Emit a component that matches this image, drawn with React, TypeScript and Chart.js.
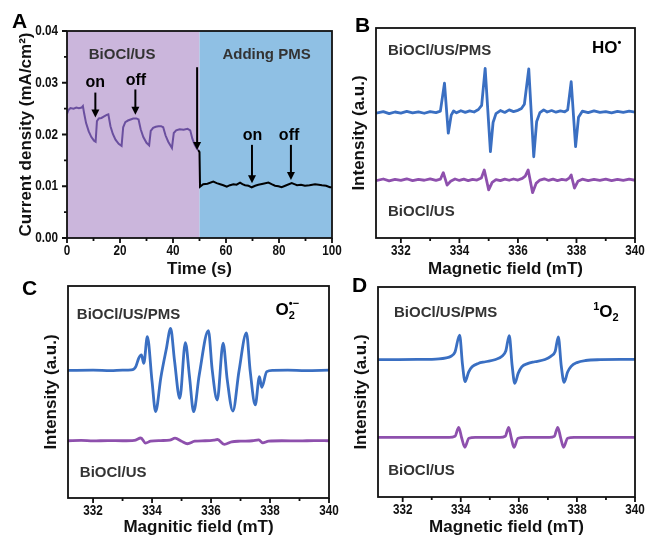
import React, { useEffect, useRef } from 'react';
import { Chart, registerables } from 'chart.js';

Chart.register(...registerables);

const FONT = '"Liberation Sans", Arial, Helvetica, sans-serif';

// ---------------- Panel A : current density vs time ----------------
const aXTicks = [0, 20, 40, 60, 80, 100];
const aXTickLabels = ['0', '20', '40', '60', '80', '100'];
const aXMinor = [10, 30, 50, 70, 90];
const aYTicks = [0, 0.01, 0.02, 0.03, 0.04];
const aYTickLabels = ['0.00', '0.01', '0.02', '0.03', '0.04'];
const aYMinor = [0.005, 0.015, 0.025, 0.035];

const aUsTime = [
  0, 0.5, 1.3, 2.5, 3.5, 4.5, 5.5, 6.0, 6.5, 7.2,
  8.2, 9.2, 10.2, 10.8, 11.3, 12.0, 13.0, 14.0, 15.0, 15.6,
  16.4, 17.3, 18.3, 19.5, 20.6, 21.2, 22.0, 23.0, 24.0, 25.0,
  26.2, 27.0, 27.8, 28.8, 30.0, 31.0, 31.6, 32.5, 33.5, 34.5,
  35.5, 36.3, 37.2, 38.2, 39.6, 40.3, 41.2, 42.5, 44.0, 45.5,
  46.5, 47.3, 48.2, 49.1, 49.5,
];
const aUsCurrent = [
  0.0240, 0.0247, 0.0251, 0.0250, 0.0252, 0.0251, 0.0252, 0.0255, 0.0240, 0.0222,
  0.0206, 0.0195, 0.0188, 0.0186, 0.0226, 0.0231, 0.0232, 0.0235, 0.0238, 0.0239,
  0.0216, 0.0201, 0.0190, 0.0182, 0.0178, 0.0214, 0.0224, 0.0227, 0.0229, 0.0231,
  0.0231, 0.0229, 0.0210, 0.0195, 0.0184, 0.0179, 0.0207, 0.0213, 0.0215, 0.0216,
  0.0216, 0.0214, 0.0198, 0.0186, 0.0174, 0.0203, 0.0208, 0.0210, 0.0209, 0.0211,
  0.0208, 0.0192, 0.0180, 0.0172, 0.0170,
];
const aPmsTime = [
  49.5, 50.0, 50.2, 51.4, 53.0, 55.2, 56.5, 57.8, 59.0, 60.3,
  61.5, 62.8, 64.0, 65.3, 66.2, 67.2, 68.5, 69.7, 71.0, 72.2,
  74.0, 76.0, 77.2, 78.5, 79.8, 81.0, 82.8, 84.8, 85.8, 86.8,
  88.3, 89.8, 91.5, 93.6, 95.0, 96.2, 97.8, 99.2, 100,
];
const aPmsCurrent = [
  0.0170, 0.0166, 0.0099, 0.0104, 0.0105, 0.0109, 0.0106, 0.0104, 0.0102, 0.0099,
  0.0102, 0.0104, 0.0103, 0.0107, 0.0104, 0.0102, 0.0101, 0.0098, 0.0101, 0.0103,
  0.0105, 0.0107, 0.0104, 0.0101, 0.0100, 0.0098, 0.0102, 0.0106, 0.0104, 0.0102,
  0.0103, 0.0101, 0.0102, 0.0104, 0.0103, 0.0102, 0.0101, 0.0098, 0.0098,
];
// shaded regions (time ranges)
const aRegionStart = [0, 50];
const aRegionEnd = [50, 100];
// arrows (time, from current, to current)
const aArrowTime = [10.7, 25.8, 49.1, 69.8, 84.5];
const aArrowFrom = [0.0281, 0.0287, 0.0330, 0.0180, 0.0180];
const aArrowTo = [0.0233, 0.0238, 0.0170, 0.0106, 0.0112];

// ---------------- EPR panels ----------------
const eprTicks = [332, 334, 336, 338, 340];
const eprTickLabels = ['332', '334', '336', '338', '340'];
const eprMinor = [333, 335, 337, 339];

// Panel B (HO•)
const bPmsField = [
  331.15, 331.4, 331.6, 331.8, 332.0, 332.2, 332.4, 332.6, 332.8, 333.0,
  333.2, 333.35, 333.49, 333.62, 333.72, 333.8, 333.9, 334.05, 334.2, 334.35,
  334.5, 334.65, 334.76, 334.88, 335.06, 335.15, 335.25, 335.4, 335.55, 335.7,
  335.85, 336.0, 336.12, 336.22, 336.37, 336.54, 336.64, 336.75, 336.88, 337.0,
  337.15, 337.3, 337.45, 337.6, 337.7, 337.82, 337.97, 338.07, 338.2, 338.4,
  338.6, 338.8, 339.0, 339.2, 339.4, 339.6, 339.8, 340.0,
];
const bPmsIntensity = [
  59.4, 60.2, 59.2, 60.0, 59.5, 60.3, 59.6, 60.1, 59.4, 60.2,
  59.7, 60.4, 73.7, 49.9, 58.5, 60.5, 59.6, 60.6, 59.8, 60.5,
  60.0, 61.2, 63.2, 80.8, 41.1, 55.0, 59.2, 60.7, 59.8, 61.0,
  60.2, 60.8, 61.7, 63.7, 80.5, 38.7, 55.5, 59.7, 61.0, 60.0,
  60.7, 59.9, 60.5, 60.1, 61.0, 74.4, 43.5, 57.5, 60.4, 59.7,
  60.5, 59.8, 60.2, 59.6, 60.3, 59.8, 60.4, 59.9,
];
const bUsField = [
  331.15, 331.4, 331.6, 331.8, 332.0, 332.2, 332.4, 332.6, 332.8, 333.0,
  333.2, 333.35, 333.45, 333.58, 333.7, 333.85, 334.0, 334.15, 334.3, 334.45,
  334.6, 334.75, 334.85, 335.0, 335.12, 335.25, 335.4, 335.55, 335.7, 335.85,
  336.0, 336.15, 336.25, 336.35, 336.5, 336.62, 336.75, 336.9, 337.05, 337.2,
  337.35, 337.5, 337.65, 337.75, 337.82, 337.93, 338.05, 338.2, 338.4, 338.6,
  338.8, 339.0, 339.2, 339.4, 339.6, 339.8, 340.0,
];
const bUsIntensity = [
  27.3, 28.1, 27.2, 27.9, 27.4, 28.2, 27.3, 27.9, 27.5, 28.2,
  27.4, 28.0, 31.1, 25.2, 27.0, 28.1, 27.4, 28.0, 27.3, 27.9,
  27.6, 28.6, 32.4, 22.9, 26.5, 27.8, 27.3, 28.0, 27.5, 28.1,
  27.6, 28.4, 29.5, 32.4, 21.6, 26.0, 27.6, 28.2, 27.4, 28.0,
  27.3, 27.9, 27.6, 28.5, 30.0, 23.8, 27.0, 28.0, 27.3, 27.9,
  27.4, 28.0, 27.3, 27.9, 27.4, 28.0, 27.5,
];

// Panel C (O2•−)
const cPmsField = [
  331.15, 332.0, 332.6, 333.0, 333.3, 333.45, 333.55, 333.64, 333.72, 333.84,
  334.0, 334.12, 334.3, 334.48, 334.63, 334.76, 334.94, 335.13, 335.27, 335.41,
  335.6, 335.91, 336.04, 336.21, 336.41, 336.55, 336.74, 336.95, 337.2, 337.33,
  337.5, 337.64, 337.72, 337.89, 338.1, 338.6, 339.2, 340.0,
];
const cPmsIntensity = [
  60.2, 60.3, 60.1, 60.3, 60.4, 62.0, 66.0, 67.5, 63.5, 76.1,
  55.0, 40.7, 57.0, 70.0, 80.0, 65.0, 47.0, 73.3, 57.2, 40.7,
  58.0, 78.9, 60.4, 46.2, 73.0, 55.7, 41.0, 60.0, 77.9, 59.6,
  43.9, 57.2, 52.2, 59.6, 60.2, 60.3, 60.1, 60.3,
];
const cUsField = [
  331.15, 331.6, 332.0, 332.5, 333.0, 333.4, 333.62, 333.78, 333.95, 334.3,
  334.6, 334.78, 335.0, 335.2, 335.45, 335.8, 336.1, 336.22, 336.45, 336.7,
  337.0, 337.4, 337.62, 337.75, 337.95, 338.4, 339.0, 339.5, 340.0,
];
const cUsIntensity = [
  27.0, 27.2, 26.9, 27.1, 27.0, 27.2, 28.3, 25.9, 26.8, 27.1,
  27.3, 28.2, 26.8, 25.6, 26.8, 27.0, 27.3, 27.6, 25.3, 26.5,
  26.8, 27.0, 27.4, 26.0, 26.8, 27.0, 26.9, 27.1, 27.0,
];

// Panel D (1O2)
const dPmsField = [
  331.15, 332.5, 333.25, 333.5, 333.65, 333.8, 333.96, 334.06, 334.15, 334.27,
  334.39, 334.6, 334.85, 335.2, 335.42, 335.55, 335.67, 335.77, 335.86, 335.98,
  336.1, 336.3, 336.55, 336.9, 337.1, 337.25, 337.36, 337.46, 337.56, 337.68,
  337.8, 338.0, 338.3, 338.8, 339.5, 340.0,
];
const dPmsIntensity = [
  65.4, 65.5, 65.8, 66.3, 66.9, 69.0, 77.1, 63.0, 54.9, 59.5,
  62.0, 63.6, 64.4, 65.5, 67.0, 69.5, 76.8, 62.5, 54.1, 59.0,
  62.0, 63.5, 64.4, 65.5, 67.0, 69.3, 76.2, 62.5, 54.6, 59.5,
  62.2, 64.0, 65.0, 65.4, 65.5, 65.5,
];
const dUsField = [
  331.15, 333.6, 333.8, 333.93, 334.03, 334.14, 334.28, 334.5, 335.35, 335.53,
  335.65, 335.74, 335.83, 335.97, 336.2, 337.05, 337.22, 337.34, 337.44, 337.54,
  337.68, 337.9, 340.0,
];
const dUsIntensity = [
  28.4, 28.4, 28.9, 33.2, 28.2, 23.7, 28.0, 28.4, 28.4, 28.9,
  33.2, 28.2, 23.6, 28.0, 28.4, 28.4, 28.9, 33.2, 28.2, 23.7,
  28.0, 28.4, 28.4,
];

// ---------------- helpers ----------------
const BLUE = '#3a6fc2';
const PURPLE = '#8e50ad';
const TEXT = '#111';
const LABEL = '#333';

const pts = (xs: number[], ys: number[]) => xs.map((x, i) => ({ x, y: ys[i] }));

type Seg = { t: string; size: number; dy?: number; adv?: boolean };
type Label = { x: number; y: number; segs: Seg[]; align?: 'left' | 'center'; color?: string };

function segWidth(ctx: CanvasRenderingContext2D, segs: Seg[]) {
  let w = 0;
  for (const s of segs) {
    ctx.font = `bold ${s.size}px ${FONT}`;
    if (s.adv !== false) w += ctx.measureText(s.t).width;
  }
  return w;
}

function drawRich(ctx: CanvasRenderingContext2D, x: number, y: number, segs: Seg[]) {
  let cx = x;
  for (const s of segs) {
    ctx.font = `bold ${s.size}px ${FONT}`;
    ctx.fillText(s.t, cx, y + (s.dy || 0));
    if (s.adv !== false) cx += ctx.measureText(s.t).width;
  }
}

// tick label text, slightly condensed like the original figure
function drawTickText(ctx: CanvasRenderingContext2D, text: string, x: number, y: number, align: CanvasTextAlign) {
  ctx.save();
  ctx.translate(x, y);
  ctx.scale(0.78, 1);
  ctx.font = `bold 15px ${FONT}`;
  ctx.fillStyle = TEXT;
  ctx.textAlign = align;
  ctx.textBaseline = 'middle';
  ctx.fillText(text, 0, 0);
  ctx.restore();
}

function labelsPlugin(labels: Label[]) {
  return {
    id: 'labelsPlugin',
    afterDatasetsDraw(chart: any) {
      const { ctx, scales } = chart;
      ctx.save();
      ctx.textBaseline = 'alphabetic';
      ctx.textAlign = 'left';
      for (const l of labels) {
        const px = scales.x.getPixelForValue(l.x);
        const py = scales.y.getPixelForValue(l.y);
        ctx.fillStyle = l.color || LABEL;
        let sx = px;
        if (l.align === 'center') sx = px - segWidth(ctx, l.segs) / 2;
        drawRich(ctx, sx, py, l.segs);
      }
      ctx.restore();
    },
  };
}

function framePlugin(
  xMajor: number[], xLabels: string[], xMinor: number[],
  yMajor: number[], yLabels: string[], yMinor: number[],
) {
  return {
    id: 'framePlugin',
    afterDraw(chart: any) {
      const { ctx, chartArea: ca, scales } = chart;
      ctx.save();
      ctx.strokeStyle = '#111';
      ctx.lineWidth = 1.8;
      ctx.beginPath();
      for (const v of xMajor) {
        const x = scales.x.getPixelForValue(v);
        ctx.moveTo(x, ca.bottom);
        ctx.lineTo(x, ca.bottom + 5);
      }
      for (const v of xMinor) {
        const x = scales.x.getPixelForValue(v);
        ctx.moveTo(x, ca.bottom);
        ctx.lineTo(x, ca.bottom + 3);
      }
      for (const v of yMajor) {
        const y = scales.y.getPixelForValue(v);
        ctx.moveTo(ca.left, y);
        ctx.lineTo(ca.left - 5, y);
      }
      for (const v of yMinor) {
        const y = scales.y.getPixelForValue(v);
        ctx.moveTo(ca.left, y);
        ctx.lineTo(ca.left - 3, y);
      }
      ctx.stroke();
      ctx.strokeRect(ca.left, ca.top, ca.right - ca.left, ca.bottom - ca.top);
      xMajor.forEach((v, i) => {
        drawTickText(ctx, xLabels[i], scales.x.getPixelForValue(v), ca.bottom + 13, 'center');
      });
      yMajor.forEach((v, i) => {
        drawTickText(ctx, yLabels[i], ca.left - 9, scales.y.getPixelForValue(v), 'right');
      });
      ctx.restore();
    },
  };
}

function letterPlugin(letter: string, x: number, y: number) {
  return {
    id: 'letterPlugin',
    afterDraw(chart: any) {
      const { ctx } = chart;
      ctx.save();
      ctx.fillStyle = '#000';
      ctx.font = `bold 21px ${FONT}`;
      ctx.textBaseline = 'alphabetic';
      ctx.textAlign = 'left';
      ctx.fillText(letter, x, y);
      ctx.restore();
    },
  };
}

const regionPlugin = {
  id: 'regionPlugin',
  beforeDatasetsDraw(chart: any) {
    const { ctx, chartArea: ca, scales } = chart;
    const colors = ['#cbb6dc', '#8fc0e4'];
    ctx.save();
    aRegionStart.forEach((s, i) => {
      const x0 = scales.x.getPixelForValue(s);
      const x1 = scales.x.getPixelForValue(aRegionEnd[i]);
      ctx.fillStyle = colors[i];
      ctx.fillRect(x0, ca.top, x1 - x0, ca.bottom - ca.top);
    });
    ctx.restore();
  },
};

const arrowPlugin = {
  id: 'arrowPlugin',
  afterDatasetsDraw(chart: any) {
    const { ctx, scales } = chart;
    ctx.save();
    ctx.strokeStyle = '#000';
    ctx.fillStyle = '#000';
    ctx.lineWidth = 2;
    aArrowTime.forEach((t, i) => {
      const x = scales.x.getPixelForValue(t);
      const y0 = scales.y.getPixelForValue(aArrowFrom[i]);
      const y1 = scales.y.getPixelForValue(aArrowTo[i]);
      ctx.beginPath();
      ctx.moveTo(x, y0);
      ctx.lineTo(x, y1 - 6);
      ctx.stroke();
      ctx.beginPath();
      ctx.moveTo(x - 4, y1 - 8);
      ctx.lineTo(x + 4, y1 - 8);
      ctx.lineTo(x, y1);
      ctx.closePath();
      ctx.fill();
    });
    ctx.restore();
  },
};

function xScale(min: number, max: number, title: string, height: number, titlePad: number) {
  return {
    type: 'linear',
    min,
    max,
    afterFit: (s: any) => {
      s.height = height;
    },
    ticks: { display: false },
    grid: { display: false },
    border: { display: false },
    title: { display: true, text: title, font: { size: 17, weight: 'bold', family: FONT }, color: TEXT, padding: { top: 0, bottom: titlePad } },
  };
}

function yScale(min: number, max: number, title: string, width: number, titlePad: number) {
  return {
    type: 'linear',
    min,
    max,
    afterFit: (s: any) => {
      s.width = width;
    },
    ticks: { display: false },
    grid: { display: false },
    border: { display: false },
    title: { display: true, text: title, font: { size: 17, weight: 'bold', family: FONT }, color: TEXT, padding: { top: titlePad, bottom: 0 } },
  };
}

const baseOptions = {
  responsive: false,
  animation: false,
  events: [],
  plugins: { legend: { display: false }, tooltip: { enabled: false } },
};

function eprConfig(
  pmsX: number[], pmsY: number[], usX: number[], usY: number[], smooth: boolean,
  padding: any, yWidth: number, yPad: number, xHeight: number, xPad: number,
  xTitle: string, labels: Label[], letter: [string, number, number],
) {
  const ds = (xs: number[], ys: number[], color: string) => ({
    data: pts(xs, ys),
    borderColor: color,
    borderWidth: 2.8,
    pointRadius: 0,
    tension: 0,
    cubicInterpolationMode: smooth ? 'monotone' : 'default',
    borderJoinStyle: 'round',
  });
  return {
    type: 'line',
    data: { datasets: [ds(pmsX, pmsY, BLUE), ds(usX, usY, PURPLE)] },
    options: {
      ...baseOptions,
      layout: { padding },
      scales: {
        x: xScale(331.15, 340, xTitle, xHeight, xPad),
        y: yScale(0, 100, 'Intensity (a.u.)', yWidth, yPad),
      },
    },
    plugins: [
      framePlugin(eprTicks, eprTickLabels, eprMinor, [], [], []),
      labelsPlugin(labels),
      letterPlugin(letter[0], letter[1], letter[2]),
    ],
  };
}

const configA = () => ({
  type: 'line',
  data: {
    datasets: [
      { data: pts(aUsTime, aUsCurrent), borderColor: '#6a4f9f', borderWidth: 2, pointRadius: 0, tension: 0 },
      { data: pts(aPmsTime, aPmsCurrent), borderColor: '#000', borderWidth: 2, pointRadius: 0, tension: 0 },
    ],
  },
  options: {
    ...baseOptions,
    layout: { padding: { left: 0, top: 31, right: 13, bottom: 0 } },
    scales: {
      x: xScale(0, 100, 'Time (s)', 47, 5),
      y: yScale(0, 0.04, 'Current density (mA/cm²)', 67, 16),
    },
  },
  plugins: [
    regionPlugin,
    arrowPlugin,
    labelsPlugin([
      { x: 20.8, y: 0.0346, segs: [{ t: 'BiOCl/US', size: 15 }], align: 'center' },
      { x: 75.3, y: 0.0346, segs: [{ t: 'Adding PMS', size: 15 }], align: 'center' },
      { x: 10.7, y: 0.0292, segs: [{ t: 'on', size: 16 }], align: 'center', color: '#000' },
      { x: 26.0, y: 0.0296, segs: [{ t: 'off', size: 16 }], align: 'center', color: '#000' },
      { x: 70.0, y: 0.0189, segs: [{ t: 'on', size: 16 }], align: 'center', color: '#000' },
      { x: 83.8, y: 0.0189, segs: [{ t: 'off', size: 16 }], align: 'center', color: '#000' },
    ]),
    framePlugin(aXTicks, aXTickLabels, aXMinor, aYTicks, aYTickLabels, aYMinor),
    letterPlugin('A', 12, 28),
  ],
});

const configB = () =>
  eprConfig(bPmsField, bPmsIntensity, bUsField, bUsIntensity, false,
    { left: 0, top: 28, right: 13, bottom: 0 }, 46, 19, 47, 5, 'Magnetic field (mT)',
    [
      { x: 331.56, y: 87.1, segs: [{ t: 'BiOCl/US/PMS', size: 15 }] },
      { x: 331.56, y: 10.5, segs: [{ t: 'BiOCl/US', size: 15 }] },
      { x: 338.53, y: 87.9, segs: [{ t: 'HO', size: 17 }, { t: '•', size: 11, dy: -7 }], color: '#000' },
    ],
    ['B', 25, 32]);

const configC = () =>
  eprConfig(cPmsField, cPmsIntensity, cUsField, cUsIntensity, true,
    { left: 0, top: 16, right: 16, bottom: 0 }, 68, 41, 52, 12, 'Magnitic field (mT)',
    [
      { x: 331.45, y: 84.3, segs: [{ t: 'BiOCl/US/PMS', size: 15 }] },
      { x: 331.55, y: 9.8, segs: [{ t: 'BiOCl/US', size: 15 }] },
      { x: 338.19, y: 86.3, segs: [{ t: 'O', size: 17 }, { t: '2', size: 11, dy: 4, adv: false }, { t: '•−', size: 11, dy: -8 }], color: '#000' },
    ],
    ['C', 22, 25]);

const configD = () =>
  eprConfig(dPmsField, dPmsIntensity, dUsField, dUsIntensity, true,
    { left: 0, top: 17, right: 13, bottom: 0 }, 48, 21, 53, 12, 'Magnetic field (mT)',
    [
      { x: 331.7, y: 85.9, segs: [{ t: 'BiOCl/US/PMS', size: 15 }] },
      { x: 331.5, y: 10.5, segs: [{ t: 'BiOCl/US', size: 15 }] },
      { x: 338.56, y: 85.7, segs: [{ t: '1', size: 11, dy: -7 }, { t: 'O', size: 17 }, { t: '2', size: 11, dy: 4 }], color: '#000' },
    ],
    ['D', 22, 22]);

type PanelProps = { left: number; top: number; width: number; height: number; config: () => any };

function Panel({ left, top, width, height, config }: PanelProps) {
  const ref = useRef<HTMLCanvasElement>(null);
  useEffect(() => {
    const chart = new Chart(ref.current as HTMLCanvasElement, config());
    return () => chart.destroy();
  }, []);
  return (
    <div style={{ position: 'absolute', left, top, width, height }}>
      <canvas ref={ref} width={width} height={height} style={{ width, height, display: 'block' }} />
    </div>
  );
}

export default function App() {
  return (
    <div style={{ position: 'absolute', left: 0, top: 0, width: 648, height: 535, overflow: 'hidden', background: '#fff' }}>
      <Panel left={0} top={0} width={345} height={285} config={configA} />
      <Panel left={330} top={0} width={318} height={285} config={configB} />
      <Panel left={0} top={270} width={345} height={280} config={configC} />
      <Panel left={330} top={270} width={318} height={280} config={configD} />
    </div>
  );
}
